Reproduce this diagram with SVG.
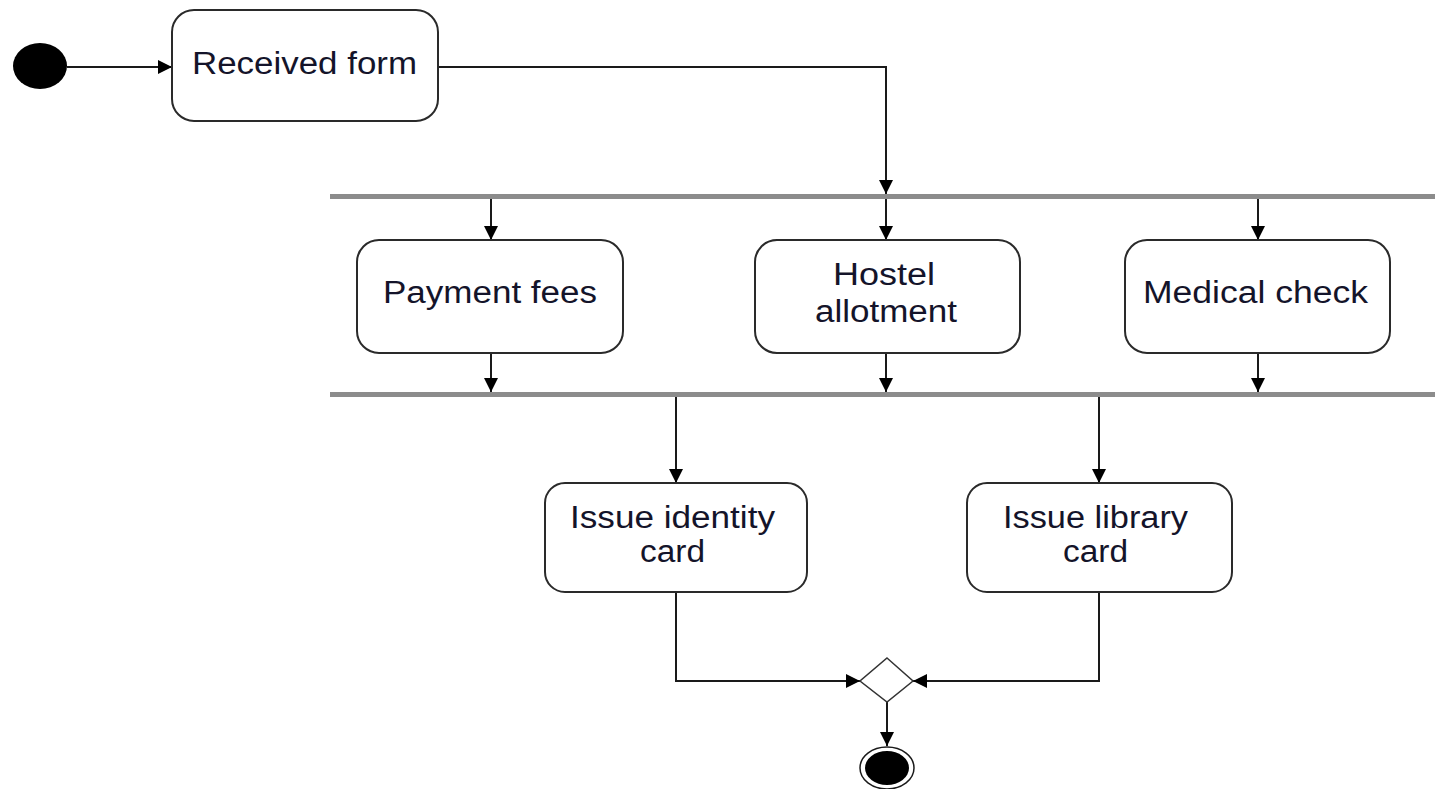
<svg xmlns="http://www.w3.org/2000/svg" width="1435" height="789" viewBox="0 0 1435 789">
  <style>
    .act { fill: #ffffff; stroke: #2a2a2a; stroke-width: 2; }
    .lbl { font-family: "Liberation Sans", Arial, sans-serif; font-size: 31px; fill: #14142a; text-anchor: middle; }
    .edge { fill: none; stroke: #1a1a1a; stroke-width: 2; }
    .bar { fill: #8c8c8c; }
  </style>
  <defs>
    <marker id="arrow" markerUnits="userSpaceOnUse" markerWidth="16" markerHeight="16" refX="14" refY="7" orient="auto">
      <path d="M0,0 L14,7 L0,14 z" fill="#000000"/>
    </marker>
  </defs>

  <rect width="1435" height="789" fill="#ffffff"/>

  <!-- fork / join bars -->
  <g id="fork">
    <rect class="bar" x="330" y="194" width="1105" height="5"/>
  </g>
  <g id="join">
    <rect class="bar" x="330" y="392" width="1105" height="5"/>
  </g>

  <g id="connectors">
    <path class="edge" d="M67,67 H172" marker-end="url(#arrow)"/>
    <path class="edge" d="M438,67 H886 V194" marker-end="url(#arrow)"/>
    <path class="edge" d="M491,199 V240" marker-end="url(#arrow)"/>
    <path class="edge" d="M886,199 V240" marker-end="url(#arrow)"/>
    <path class="edge" d="M1258,199 V240" marker-end="url(#arrow)"/>
    <path class="edge" d="M491,353 V392" marker-end="url(#arrow)"/>
    <path class="edge" d="M886,353 V392" marker-end="url(#arrow)"/>
    <path class="edge" d="M1258,353 V392" marker-end="url(#arrow)"/>
    <path class="edge" d="M676,397 V483" marker-end="url(#arrow)"/>
    <path class="edge" d="M1099,397 V483" marker-end="url(#arrow)"/>
    <path class="edge" d="M676,592 V681 H860" marker-end="url(#arrow)"/>
    <path class="edge" d="M1099,592 V681 H913" marker-end="url(#arrow)"/>
    <path class="edge" d="M887,702 V746" marker-end="url(#arrow)"/>
  </g>

  <g id="start">
    <ellipse cx="40" cy="66" rx="27" ry="23" fill="#000000"/>
  </g>

  <g id="received-form">
    <rect class="act" x="172" y="10" width="266" height="111" rx="22" ry="22"/>
    <text class="lbl" x="304.5" y="74" textLength="225" lengthAdjust="spacingAndGlyphs">Received form</text>
  </g>

  <g id="payment-fees">
    <rect class="act" x="357" y="240" width="266" height="113" rx="22" ry="22"/>
    <text class="lbl" x="490" y="303" textLength="214" lengthAdjust="spacingAndGlyphs">Payment fees</text>
  </g>

  <g id="hostel-allotment">
    <rect class="act" x="755" y="240" width="265" height="113" rx="22" ry="22"/>
    <text class="lbl" x="884" y="285" textLength="102" lengthAdjust="spacingAndGlyphs">Hostel</text>
    <text class="lbl" x="886" y="322" textLength="142" lengthAdjust="spacingAndGlyphs">allotment</text>
  </g>

  <g id="medical-check">
    <rect class="act" x="1125" y="240" width="265" height="113" rx="22" ry="22"/>
    <text class="lbl" x="1255.5" y="303" textLength="225" lengthAdjust="spacingAndGlyphs">Medical check</text>
  </g>

  <g id="issue-identity-card">
    <rect class="act" x="545" y="483" width="262" height="109" rx="20" ry="20"/>
    <text class="lbl" x="672.5" y="528" textLength="205" lengthAdjust="spacingAndGlyphs">Issue identity</text>
    <text class="lbl" x="672.5" y="562" textLength="65" lengthAdjust="spacingAndGlyphs">card</text>
  </g>

  <g id="issue-library-card">
    <rect class="act" x="967" y="483" width="265" height="109" rx="20" ry="20"/>
    <text class="lbl" x="1095.5" y="528" textLength="185" lengthAdjust="spacingAndGlyphs">Issue library</text>
    <text class="lbl" x="1095.5" y="562" textLength="65" lengthAdjust="spacingAndGlyphs">card</text>
  </g>

  <g id="merge">
    <polygon points="887,658 913,681 887,702 860,681" fill="#ffffff" stroke="#333333" stroke-width="1.5"/>
  </g>

  <g id="end">
    <ellipse cx="887" cy="768" rx="27" ry="21" fill="#ffffff" stroke="#1a1a1a" stroke-width="1.5"/>
    <ellipse cx="887" cy="768" rx="22" ry="17" fill="#000000"/>
  </g>
</svg>
